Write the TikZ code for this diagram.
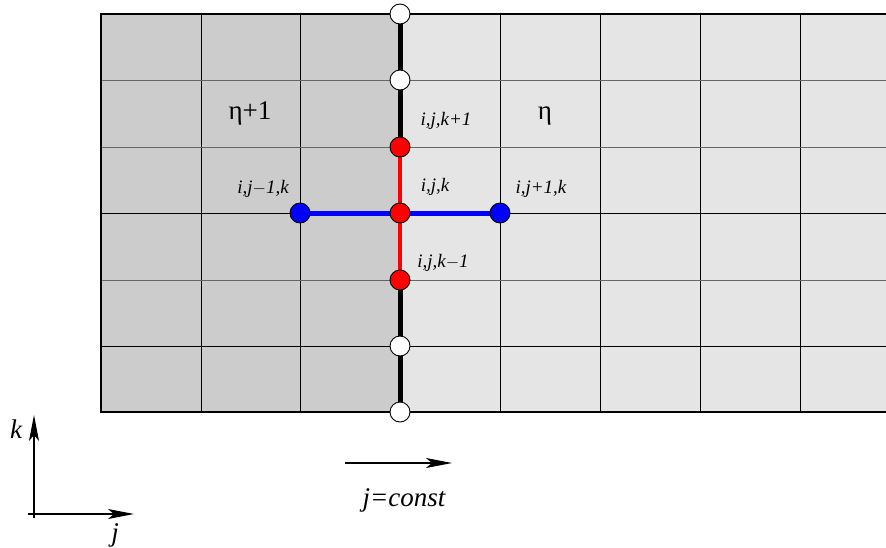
\documentclass[tikz,border=0pt]{standalone}
\usepackage{fontspec}
\setmainfont{Liberation Serif}
\usetikzlibrary{arrows.meta}
\definecolor{darkcell}{gray}{0.80}
\definecolor{lightcell}{gray}{0.90}
\definecolor{ptblue}{RGB}{0,0,255}
\definecolor{ptred}{RGB}{255,0,0}
\tikzset{
  gridline/.style={line width=1.0pt, black},
  greyline/.style={line width=1.0pt, black!60},
  border/.style={line width=2.2pt, black},
  openpt/.style={circle, draw=black, fill=white, line width=0.9pt, minimum size=20pt, inner sep=0pt},
  redpt/.style={circle, draw=black, fill=ptred, line width=0.9pt, minimum size=20pt, inner sep=0pt},
  bluept/.style={circle, draw=black, fill=ptblue, line width=0.9pt, minimum size=20pt, inner sep=0pt},
  lbl/.style={font=\fontsize{19}{21}\selectfont\itshape, inner sep=0pt},
  zone/.style={font=\fontsize{27}{29}\selectfont, inner sep=0pt},
  axlbl/.style={font=\fontsize{27}{29}\selectfont\itshape, inner sep=0pt},
  arr/.style={line width=1.1pt, -{Stealth[length=26pt, width=10pt, inset=6pt]}}
}
\begin{document}
\begin{tikzpicture}[x=1pt, y=-1pt]
\useasboundingbox (0,0) rectangle (886,547);
% zones
\fill[darkcell] (101,14) rectangle (400,412);
\fill[lightcell] (400,14) rectangle (886,412);
% grid
\foreach \x in {201,300,500,600,700,800} \draw[gridline] (\x,14) -- (\x,412);
\foreach \y in {213,346} \draw[gridline] (101,\y) -- (886,\y);
\foreach \y in {80,147,280} \draw[greyline] (101,\y) -- (886,\y);
\draw[border] (886,14) -- (101,14) -- (101,412) -- (886,412);
% node positions
\coordinate (t0) at (400,14);
\coordinate (t1) at (400,80);
\coordinate (kp) at (400,147);
\coordinate (c) at (400,213);
\coordinate (km) at (400,280);
\coordinate (b1) at (400,346);
\coordinate (b0) at (400,412);
\coordinate (jm) at (300,213);
\coordinate (jp) at (500,213);
% lines
\draw[line width=5pt, black] (t0) -- (kp);
\draw[line width=5pt, black] (km) -- (b0);
\draw[line width=4.5pt, ptred] (kp) -- (km);
\draw[line width=5pt, ptblue] (jm) -- (jp);
% points
\node[openpt] (nt0) at (t0) {};
\node[openpt] (nt1) at (t1) {};
\node[redpt] (nkp) at (kp) {};
\node[redpt] (nc) at (c) {};
\node[redpt] (nkm) at (km) {};
\node[openpt] (nb1) at (b1) {};
\node[openpt] (nb0) at (b0) {};
\node[bluept] (njm) at (jm) {};
\node[bluept] (njp) at (jp) {};
% labels
\node[zone] (z1) at (250,113) {η+1};
\node[zone] (z0) at (545,116) {η};
\node[lbl] (lkp) at (446,121) {i,j,k+1};
\node[lbl] (lc) at (435,187) {i,j,k};
\node[lbl] (ljm) at (263,189) {i,j$-$1,k};
\node[lbl] (ljp) at (541,189) {i,j+1,k};
\node[lbl] (lkm) at (443,263) {i,j,k$-$1};
% axes
\coordinate (o1) at (34,518);
\coordinate (ktip) at (34,415);
\coordinate (o2) at (28,514);
\coordinate (jtip) at (134,514);
\draw[arr] (o1) -- (ktip);
\draw[arr] (o2) -- (jtip);
\node[axlbl] (k) at (16,429) {k};
\node[axlbl] (j) at (115,535) {j};
\coordinate (a1) at (345,463);
\coordinate (a2) at (452,463);
\draw[arr] (a1) -- (a2);
\node[axlbl] (jc) at (404,500) {j=const};
\end{tikzpicture}
\end{document}
